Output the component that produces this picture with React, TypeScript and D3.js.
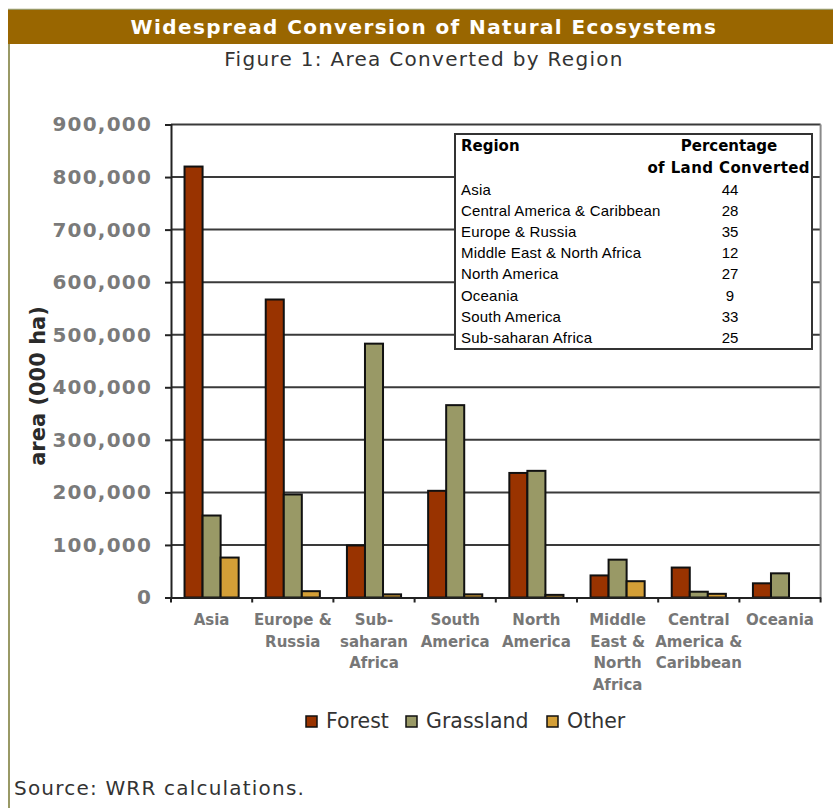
import React, { useEffect, useRef } from 'react';
import * as d3 from 'd3';

const regions = [
  'Asia',
  'Europe & Russia',
  'Sub-saharan Africa',
  'South America',
  'North America',
  'Middle East & North Africa',
  'Central America & Caribbean',
  'Oceania',
];

// axis labels wrap like the original
const regionLabelLines = [
  ['Asia'],
  ['Europe &', 'Russia'],
  ['Sub-', 'saharan', 'Africa'],
  ['South', 'America'],
  ['North', 'America'],
  ['Middle', 'East &', 'North', 'Africa'],
  ['Central', 'America &', 'Caribbean'],
  ['Oceania'],
];

const seriesNames = ['Forest', 'Grassland', 'Other'];
const forest = [820000, 567000, 99000, 203000, 237000, 42000, 57000, 27000];
const grassland = [156000, 196000, 483000, 366000, 241000, 72000, 11000, 46000];
const other = [76000, 12000, 6000, 6000, 5000, 31000, 7000, 0];
const seriesColors = ['#993300', '#999966', '#D49F37'];

const yTicks = [0, 100000, 200000, 300000, 400000, 500000, 600000, 700000, 800000, 900000];

const tableRegions = [
  'Asia',
  'Central America & Caribbean',
  'Europe & Russia',
  'Middle East & North Africa',
  'North America',
  'Oceania',
  'South America',
  'Sub-saharan Africa',
];
const tablePercent = [44, 28, 35, 12, 27, 9, 33, 25];

const W = 833;
const H = 808;

const App: React.FC = () => {
  const svgRef = useRef<SVGSVGElement>(null);

  useEffect(() => {
    if (!svgRef.current) return;
    const svg = d3.select(svgRef.current);
    svg.selectAll('*').remove();

    const plot = { left: 171, right: 820.6, top: 124.5, bottom: 597.5 };

    // Frame + title bar
    svg.append('rect').attr('x', 0).attr('y', 0).attr('width', W).attr('height', H).attr('fill', '#fff');
    svg.append('line')
      .attr('x1', 8).attr('x2', W).attr('y1', 9.5).attr('y2', 9.5)
      .attr('stroke', '#999966').attr('stroke-width', 1.5);
    svg.append('line')
      .attr('x1', 9).attr('x2', 9).attr('y1', 9).attr('y2', H)
      .attr('stroke', '#999966').attr('stroke-width', 2);
    svg.append('rect')
      .attr('x', 8).attr('y', 10).attr('width', W - 8).attr('height', 34)
      .attr('fill', '#996600');
    svg.append('text')
      .attr('x', 424).attr('y', 34)
      .attr('text-anchor', 'middle')
      .attr('font-family', 'DejaVu Sans')
      .attr('font-weight', 'bold')
      .attr('font-size', 20)
      .attr('letter-spacing', 1.4)
      .attr('fill', '#fff')
      .text('Widespread Conversion of Natural Ecosystems');
    svg.append('text')
      .attr('x', 424).attr('y', 66)
      .attr('text-anchor', 'middle')
      .attr('font-family', 'DejaVu Sans')
      .attr('font-size', 20)
      .attr('letter-spacing', 1.3)
      .attr('fill', '#333')
      .text('Figure 1: Area Converted by Region');

    // Scales
    const x = d3.scaleBand<string>().domain(regions).range([plot.left, plot.right]).padding(0);
    const xs = d3.scaleBand<string>().domain(seriesNames).range([0, x.bandwidth()])
      .paddingInner(0).paddingOuter(0.75);
    const y = d3.scaleLinear().domain([0, 900000]).range([plot.bottom, plot.top]);

    // Gridlines
    svg.append('g')
      .selectAll('line')
      .data(yTicks.filter(t => t > 0))
      .join('line')
      .attr('x1', plot.left).attr('x2', plot.right)
      .attr('y1', d => y(d)).attr('y2', d => y(d))
      .attr('stroke', '#3a3a3a').attr('stroke-width', 2);

    // Right frame
    svg.append('line')
      .attr('x1', plot.right).attr('x2', plot.right)
      .attr('y1', plot.top).attr('y2', plot.bottom)
      .attr('stroke', '#8a8a8a').attr('stroke-width', 2);

    // Bars
    const seriesValues = [forest, grassland, other];
    const bars = svg.append('g');
    regions.forEach((r, i) => {
      seriesNames.forEach((s, j) => {
        const v = seriesValues[j][i];
        if (!v) return;
        bars.append('rect')
          .attr('x', (x(r) ?? 0) + (xs(s) ?? 0))
          .attr('y', y(v))
          .attr('width', xs.bandwidth())
          .attr('height', y(0) - y(v))
          .attr('fill', seriesColors[j])
          .attr('stroke', '#111')
          .attr('stroke-width', 2);
      });
    });

    // Y axis
    const yAxis = d3.axisLeft(y)
      .tickValues(yTicks)
      .tickSize(6)
      .tickPadding(13)
      .tickFormat(d3.format(',') as any);
    svg.append('g')
      .attr('transform', `translate(${plot.left},0)`)
      .call(yAxis)
      .call(g => g.select('.domain').attr('stroke', '#222').attr('stroke-width', 2))
      .call(g => g.selectAll('.tick line').attr('stroke', '#222').attr('stroke-width', 2))
      .call(g => g.selectAll('.tick text')
        .attr('fill', '#7a7a7a')
        .attr('font-family', 'DejaVu Sans')
        .attr('font-weight', 'bold')
        .attr('font-size', '20px')
        .attr('letter-spacing', 1.2));

    // X axis
    const xAxis = d3.axisBottom(x).tickSize(0).tickFormat(() => '');
    svg.append('g')
      .attr('transform', `translate(0,${plot.bottom})`)
      .call(xAxis)
      .call(g => g.select('.domain').attr('stroke', '#222').attr('stroke-width', 2));
    // category boundary ticks
    svg.append('g')
      .selectAll('line')
      .data(regions.map(r => x(r) ?? 0).concat([plot.right]))
      .join('line')
      .attr('x1', d => d).attr('x2', d => d)
      .attr('y1', plot.bottom).attr('y2', plot.bottom + 5)
      .attr('stroke', '#222').attr('stroke-width', 2);

    // Category labels
    const catG = svg.append('g');
    regions.forEach((r, i) => {
      const cx = (x(r) ?? 0) + x.bandwidth() / 2;
      regionLabelLines[i].forEach((line, k) => {
        catG.append('text')
          .attr('x', cx)
          .attr('y', 625 + k * 21.5)
          .attr('text-anchor', 'middle')
          .attr('font-family', 'DejaVu Sans')
          .attr('font-weight', 'bold')
          .attr('font-size', 15)
          .attr('fill', '#777')
          .text(line);
      });
    });

    // Y axis title
    svg.append('text')
      .attr('transform', `translate(45,386) rotate(-90)`)
      .attr('text-anchor', 'middle')
      .attr('font-family', 'DejaVu Sans')
      .attr('font-weight', 'bold')
      .attr('font-size', 21)
      .attr('fill', '#2a2a2a')
      .text('area (000 ha)');

    // Table overlay
    const tbl = svg.append('g');
    tbl.append('rect')
      .attr('x', 455).attr('y', 134).attr('width', 357).attr('height', 215)
      .attr('fill', '#fff').attr('stroke', '#333').attr('stroke-width', 2);
    tbl.append('text')
      .attr('x', 461).attr('y', 151)
      .attr('font-family', 'DejaVu Sans').attr('font-weight', 'bold').attr('font-size', 15)
      .attr('fill', '#000').text('Region');
    tbl.append('text')
      .attr('x', 729).attr('y', 151).attr('text-anchor', 'middle')
      .attr('font-family', 'DejaVu Sans').attr('font-weight', 'bold').attr('font-size', 15)
      .attr('fill', '#000').text('Percentage');
    tbl.append('text')
      .attr('x', 810).attr('y', 172.5).attr('text-anchor', 'end')
      .attr('font-family', 'DejaVu Sans').attr('font-weight', 'bold').attr('font-size', 15)
      .attr('letter-spacing', 0.4)
      .attr('fill', '#000').text('of Land Converted');
    const rowY = d3.scaleLinear().domain([0, tableRegions.length - 1]).range([194.5, 343]);
    tableRegions.forEach((r, i) => {
      tbl.append('text')
        .attr('x', 461).attr('y', rowY(i))
        .attr('font-family', 'Liberation Sans').attr('font-size', 15)
        .attr('letter-spacing', 0.2)
        .attr('fill', '#000').text(r);
      tbl.append('text')
        .attr('x', 730).attr('y', rowY(i)).attr('text-anchor', 'middle')
        .attr('font-family', 'Liberation Sans').attr('font-size', 15)
        .attr('fill', '#000').text(String(tablePercent[i]));
    });

    // Legend
    const legendX = [306, 406, 547];
    const leg = svg.append('g');
    seriesNames.forEach((s, j) => {
      leg.append('rect')
        .attr('x', legendX[j]).attr('y', 716).attr('width', 11).attr('height', 11)
        .attr('fill', seriesColors[j]).attr('stroke', '#111').attr('stroke-width', 1.5);
      leg.append('text')
        .attr('x', legendX[j] + 20).attr('y', 728)
        .attr('font-family', 'DejaVu Sans').attr('font-size', 20.5)
        .attr('fill', '#333').text(s);
    });

    // Source
    svg.append('text')
      .attr('x', 14).attr('y', 795)
      .attr('font-family', 'DejaVu Sans').attr('font-size', 20)
      .attr('letter-spacing', 1.2)
      .attr('fill', '#333')
      .text('Source: WRR calculations.');
  }, []);

  return (
    <div style={{ position: 'absolute', left: 0, top: 0, width: W, height: H, background: '#fff' }}>
      <svg ref={svgRef} width={W} height={H} style={{ display: 'block' }} />
    </div>
  );
};

export default App;
